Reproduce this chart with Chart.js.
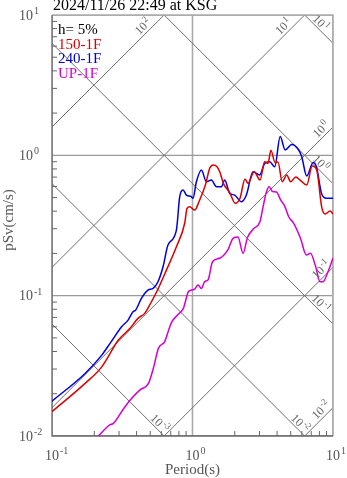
<!DOCTYPE html>
<html>
<head>
<meta charset="utf-8">
<script src="https://cdn.jsdelivr.net/npm/chart.js@4.4.1/dist/chart.umd.min.js"></script>
<style>
  html, body { margin: 0; padding: 0; background: #fff; }
  #wrap { width: 347px; height: 478px; position: relative; }
</style>
</head>
<body>
<div id="wrap"><canvas id="psvChart"></canvas></div>
<script>
const chartTitle = '2024/11/26 22:49 at KSG';
const dampingLabel = 'h= 5%';
const xTitle = 'Period(s)';
const yTitle = 'pSv(cm/s)';

// tick decades (powers of ten)
const xDecades = [-1, 0, 1];
const yDecades = [-2, -1, 0, 1];
// tripartite guide lines: acceleration (cm/s2) and displacement (cm) decades
const accDecades = [-2, -1, 0, 1, 2];
const dispDecades = [-3, -2, -1, 0, 1];

const names = ['150-1F', '240-1F', 'UP-1F'];

const period150 = [0.1, 0.172, 0.226, 0.297, 0.359, 0.409, 0.457, 0.510, 0.556, 0.652, 0.768, 0.880, 0.914, 0.955, 1.037, 1.112, 1.235, 1.326, 1.404, 1.494, 1.562, 1.668, 1.840, 2.013, 2.178, 2.364, 2.483, 2.749, 3.023, 3.265, 3.446, 3.614, 3.866, 4.060, 4.350, 4.683, 5.000, 5.426, 5.890, 6.50, 7.11, 7.66, 8.31, 8.80, 9.52, 10];
const sv150 = [0.0149, 0.0237, 0.0311, 0.0483, 0.0585, 0.0689, 0.0748, 0.0905, 0.1066, 0.152, 0.223, 0.328, 0.419, 0.430, 0.407, 0.467, 0.614, 0.808, 0.853, 0.829, 0.764, 0.624, 0.543, 0.455, 0.494, 0.678, 0.632, 0.764, 0.667, 0.900, 0.877, 1.085, 0.889, 0.896, 0.648, 0.724, 0.648, 0.700, 0.661, 0.614, 0.839, 0.786, 0.428, 0.382, 0.401, 0.382];

const period240 = [0.1, 0.172, 0.226, 0.259, 0.313, 0.348, 0.377, 0.394, 0.433, 0.482, 0.524, 0.568, 0.617, 0.669, 0.768, 0.811, 0.856, 0.905, 0.982, 1.008, 1.066, 1.157, 1.256, 1.363, 1.48, 1.606, 1.695, 1.84, 1.997, 2.228, 2.418, 2.696, 3.009, 3.265, 3.544, 3.847, 4.209, 4.568, 5.082, 5.70, 5.99, 6.50, 7.23, 7.62, 8.31, 8.98, 10];
const sv240 = [0.0177, 0.0279, 0.0377, 0.0457, 0.0600, 0.0670, 0.0768, 0.0789, 0.0957, 0.1096, 0.1127, 0.1257, 0.1607, 0.2295, 0.2935, 0.507, 0.566, 0.521, 0.507, 0.494, 0.648, 0.786, 0.648, 0.667, 0.597, 0.597, 0.667, 0.536, 0.521, 0.467, 0.521, 0.764, 0.724, 0.877, 0.900, 0.829, 1.361, 1.091, 1.194, 1.091, 0.977, 0.712, 0.889, 0.829, 0.530, 0.494, 0.494];

const periodUP = [0.214, 0.2575, 0.2735, 0.324, 0.363, 0.423, 0.486, 0.527, 0.572, 0.634, 0.688, 0.711, 0.794, 0.861, 0.935, 0.987, 1.037, 1.094, 1.157, 1.221, 1.289, 1.388, 1.569, 1.798, 1.942, 2.108, 2.288, 2.463, 2.709, 3.023, 3.176, 3.357, 3.515, 3.710, 3.956, 4.244, 4.531, 4.838, 5.253, 5.861, 6.467, 6.905, 7.533, 8.081, 8.488, 9.213, 10];
const svUP = [0.0100, 0.0120, 0.0123, 0.0157, 0.0182, 0.0213, 0.0237, 0.0305, 0.0421, 0.0471, 0.0597, 0.0648, 0.0739, 0.0812, 0.1066, 0.1096, 0.1114, 0.119, 0.1127, 0.126, 0.1292, 0.1744, 0.1854, 0.2149, 0.2562, 0.2617, 0.2002, 0.2595, 0.2983, 0.3375, 0.428, 0.548, 0.597, 0.552, 0.548, 0.480, 0.435, 0.365, 0.3276, 0.2574, 0.1948, 0.2002, 0.1607, 0.1257, 0.1257, 0.148, 0.1854];

const SERIF = '"Liberation Serif", "DejaVu Serif", "Times New Roman", serif';
const TWO_PI = 2 * Math.PI;

function pairs(xs, ys) {
  return xs.map((x, i) => ({ x: x, y: ys[i] }));
}

// "10" with a raised exponent; anchor: 'center' = base centred on x, 'right' = base ends at x, 'mid' = whole text centred
function drawPow(ctx, exp, x, y, size, anchor) {
  const base = '10';
  const sup = String(exp);
  const supSize = Math.round(size * 0.72);
  ctx.font = size + 'px ' + SERIF;
  const bw = ctx.measureText(base).width;
  ctx.font = supSize + 'px ' + SERIF;
  const sw = ctx.measureText(sup).width;
  let x0;
  if (anchor === 'right') x0 = x - bw;
  else if (anchor === 'center') x0 = x - bw / 2;
  else x0 = x - (bw + sw + 1) / 2;
  ctx.textAlign = 'left';
  ctx.textBaseline = 'alphabetic';
  ctx.font = size + 'px ' + SERIF;
  ctx.fillText(base, x0, y);
  ctx.font = supSize + 'px ' + SERIF;
  ctx.fillText(sup, x0 + bw + 1, y - size * 0.4);
}

const tripartite = {
  id: 'tripartite',
  beforeDraw(chart) {
    const ctx = chart.ctx;
    ctx.save();
    ctx.fillStyle = '#fff';
    ctx.fillRect(0, 0, chart.width, chart.height);
    ctx.restore();
  },
  beforeDatasetsDraw(chart) {
    const ctx = chart.ctx;
    const a = chart.chartArea;
    const xs = chart.scales.x, ys = chart.scales.y;
    ctx.save();
    ctx.beginPath();
    ctx.rect(a.left, a.top, a.right - a.left, a.bottom - a.top);
    ctx.clip();

    // major grid
    ctx.strokeStyle = '#aaa';
    ctx.lineWidth = 1.6;
    xDecades.forEach(e => {
      const px = xs.getPixelForValue(Math.pow(10, e));
      ctx.beginPath(); ctx.moveTo(px, a.top); ctx.lineTo(px, a.bottom); ctx.stroke();
    });
    ctx.strokeStyle = '#999';
    ctx.lineWidth = 1.3;
    yDecades.forEach(e => {
      const py = ys.getPixelForValue(Math.pow(10, e));
      ctx.beginPath(); ctx.moveTo(a.left, py); ctx.lineTo(a.right, py); ctx.stroke();
    });

    // diagonal lines
    ctx.strokeStyle = '#6f6f6f';
    ctx.lineWidth = 1;
    const t0 = xs.min, t1 = xs.max;
    accDecades.forEach(e => {
      const sa = Math.pow(10, e);
      ctx.beginPath();
      ctx.moveTo(xs.getPixelForValue(t0), ys.getPixelForValue(sa * t0 / TWO_PI));
      ctx.lineTo(xs.getPixelForValue(t1), ys.getPixelForValue(sa * t1 / TWO_PI));
      ctx.stroke();
    });
    dispDecades.forEach(e => {
      const d = Math.pow(10, e);
      ctx.beginPath();
      ctx.moveTo(xs.getPixelForValue(t0), ys.getPixelForValue(TWO_PI * d / t0));
      ctx.lineTo(xs.getPixelForValue(t1), ys.getPixelForValue(TWO_PI * d / t1));
      ctx.stroke();
    });
    ctx.restore();

    // frame
    ctx.save();
    ctx.strokeStyle = '#aaa';
    ctx.lineWidth = 1.6;
    ctx.beginPath();
    ctx.moveTo(a.left, a.top); ctx.lineTo(a.right, a.top); ctx.lineTo(a.right, a.bottom);
    ctx.stroke();
    ctx.strokeStyle = '#666';
    ctx.lineWidth = 1.3;
    ctx.beginPath();
    ctx.moveTo(a.left, a.top); ctx.lineTo(a.left, a.bottom); ctx.lineTo(a.right, a.bottom);
    ctx.stroke();

    // minor ticks, inside
    ctx.lineWidth = 1;
    ctx.strokeStyle = '#666';
    yDecades.forEach(e => {
      for (let k = 2; k <= 9; k++) {
        const v = k * Math.pow(10, e);
        if (v > ys.max) continue;
        const py = ys.getPixelForValue(v);
        ctx.beginPath(); ctx.moveTo(a.left, py); ctx.lineTo(a.left + 5, py); ctx.stroke();
      }
    });
    xDecades.forEach(e => {
      for (let k = 2; k <= 9; k++) {
        const v = k * Math.pow(10, e);
        if (v > xs.max) continue;
        const px = xs.getPixelForValue(v);
        ctx.beginPath(); ctx.moveTo(px, a.bottom); ctx.lineTo(px, a.bottom - 5); ctx.stroke();
      }
    });
    ctx.restore();
  },
  afterDatasetsDraw(chart) {
    const ctx = chart.ctx;
    const a = chart.chartArea;
    const xs = chart.scales.x, ys = chart.scales.y;
    const r = Math.SQRT1_2;
    ctx.save();

    // diagonal labels
    ctx.fillStyle = '#666';
    const labelAt = (exp, px, py, rot) => {
      ctx.save();
      ctx.translate(px, py);
      ctx.rotate(rot);
      drawPow(ctx, exp, 0, 4, 12, 'mid');
      ctx.restore();
    };
    accDecades.forEach(e => {
      const sa = Math.pow(10, e);
      let t = TWO_PI * ys.max / sa, back;
      if (t > xs.max) { t = xs.max; back = 10; } else { back = 23; }
      const ex = xs.getPixelForValue(t), ey = ys.getPixelForValue(sa * t / TWO_PI);
      // back along the line (down-left), then off it (up-left)
      labelAt(e, ex - back * r - 7 * r, ey + back * r - 7 * r, -Math.PI / 4);
    });
    dispDecades.forEach(e => {
      const d = Math.pow(10, e);
      let t = TWO_PI * d / ys.min, back;
      if (t > xs.max) { t = xs.max; back = 23; } else { back = 12; }
      const ex = xs.getPixelForValue(t), ey = ys.getPixelForValue(TWO_PI * d / t);
      // back along the line (up-left), then off it (up-right)
      labelAt(e, ex - back * r + 6 * r, ey - back * r - 6 * r, Math.PI / 4);
    });

    // tick labels
    ctx.fillStyle = '#555';
    yDecades.forEach(e => {
      drawPow(ctx, e, 33, ys.getPixelForValue(Math.pow(10, e)) + 4.5, 14, 'right');
    });
    xDecades.forEach(e => {
      drawPow(ctx, e, xs.getPixelForValue(Math.pow(10, e)), a.bottom + 24, 14, 'center');
    });

    // axis titles
    ctx.font = '15px ' + SERIF;
    ctx.textAlign = 'center';
    ctx.textBaseline = 'middle';
    ctx.fillText(xTitle, (a.left + a.right) / 2, a.bottom + 34);
    ctx.save();
    ctx.translate(9, 220);
    ctx.rotate(-Math.PI / 2);
    ctx.fillText(yTitle, 0, 0);
    ctx.restore();

    // title
    ctx.fillStyle = '#000';
    ctx.font = '16px ' + SERIF;
    ctx.textAlign = 'left';
    ctx.textBaseline = 'alphabetic';
    ctx.fillText(chartTitle, a.left + 1, 10);

    // legend
    ctx.font = '15px ' + SERIF;
    ctx.fillStyle = '#000';
    ctx.fillText(dampingLabel, a.left + 6, 34);
    chart.data.datasets.forEach((ds, i) => {
      ctx.fillStyle = ds.borderColor;
      ctx.fillText(ds.label, a.left + 6, 48.5 + i * 14.5);
    });
    ctx.restore();
  }
};

new Chart(document.getElementById('psvChart'), {
  type: 'line',
  data: {
    datasets: [
      { label: names[0], data: pairs(period150, sv150), borderColor: '#dd0000' },
      { label: names[1], data: pairs(period240, sv240), borderColor: '#0000dd' },
      { label: names[2], data: pairs(periodUP, svUP), borderColor: '#d400d4' }
    ]
  },
  options: {
    responsive: true,
    maintainAspectRatio: false,
    animation: false,
    layout: { padding: { left: 52, right: 14, top: 15, bottom: 42 } },
    elements: {
      point: { radius: 0 },
      line: { borderWidth: 1.5, cubicInterpolationMode: 'monotone', fill: false }
    },
    plugins: {
      legend: { display: false },
      tooltip: { enabled: false }
    },
    scales: {
      x: { type: 'logarithmic', min: 0.1, max: 10, display: false },
      y: { type: 'logarithmic', min: 0.01, max: 10, display: false }
    }
  },
  plugins: [tripartite]
});
</script>
</body>
</html>
